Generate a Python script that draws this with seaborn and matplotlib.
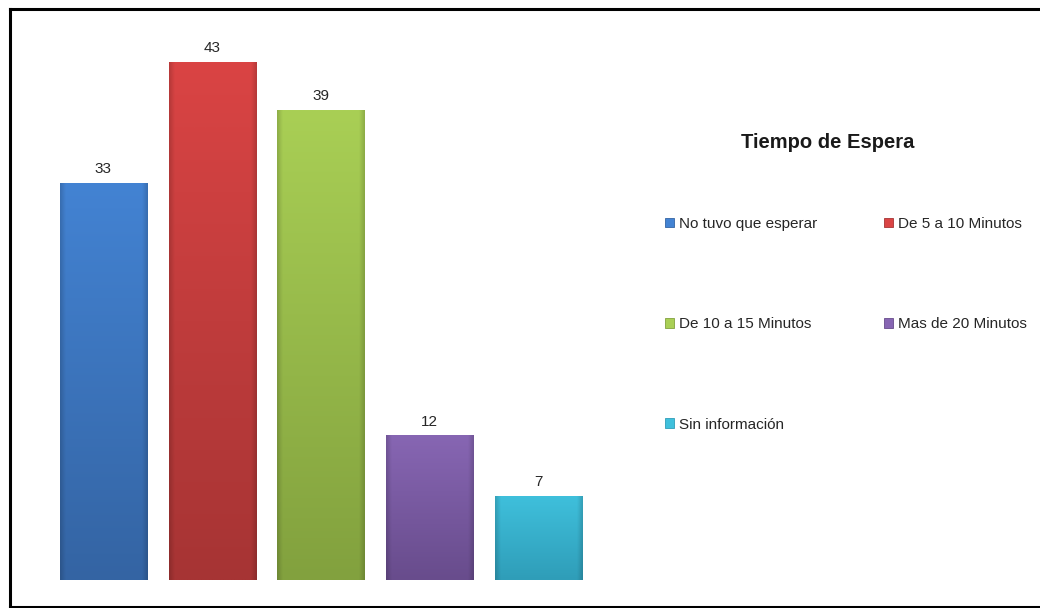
import numpy as np
import pandas as pd
import matplotlib
matplotlib.use("Agg")
import matplotlib.pyplot as plt
import seaborn as sns
from matplotlib.patches import Rectangle
from matplotlib.lines import Line2D
import matplotlib.colors as mcolors

categories = ["No tuvo que esperar", "De 5 a 10 Minutos", "De 10 a 15 Minutos",
              "Mas de 20 Minutos", "Sin información"]
values = [33, 43, 39, 12, 7]
top_colors = ["#4383D3", "#DA4444", "#A9CF55", "#8766B3", "#3FC0DC"]
bottom_colors = ["#3464A3", "#A63434", "#82A13E", "#684C8C", "#2F9DB8"]
legend_title = "Tiempo de Espera"

sns.set_theme(style="white")
plt.rcParams['font.family'] = ['Liberation Sans', 'DejaVu Sans']

fig = plt.figure(figsize=(10.4, 6.08), dpi=100)
W, H = 1040, 608
ax = fig.add_axes([49 / W, 1 - 580 / H, (593 - 49) / W, (580 - 26) / H])

df = pd.DataFrame({"cat": categories, "val": values})
sns.barplot(data=df, x="cat", y="val", hue="cat", palette=top_colors,
            width=0.8, legend=False, ax=ax, saturation=1)

for patch, ct, cb, v in zip(ax.patches, top_colors, bottom_colors, values):
    x0, y0 = patch.get_x(), patch.get_y()
    w, h = patch.get_width(), patch.get_height()
    c1 = np.array(mcolors.to_rgb(ct))
    c2 = np.array(mcolors.to_rgb(cb))
    t = np.linspace(0, 1, 256)[:, None]
    grad = (c1[None, :] * (1 - t) + c2[None, :] * t)[:, None, :]
    xs = np.linspace(0, 1, 64)
    edge = np.clip(np.minimum(xs, 1 - xs) / 0.06, 0, 1)
    shade = 0.85 + 0.15 * edge
    img = np.clip(grad * shade[None, :, None], 0, 1)
    im = ax.imshow(img, extent=[x0, x0 + w, y0, y0 + h], aspect='auto',
                   origin='upper', zorder=patch.get_zorder() + 0.1,
                   interpolation='bilinear')
    im.set_clip_path(patch)
    ax.annotate(str(v), (x0 + w / 2, y0 + h), xytext=(0, 5),
                textcoords="offset points", ha="center", va="bottom",
                fontsize=11, color="#262626")

ax.set_xlim(-0.5, 4.5)
ax.set_ylim(0, 46)
ax.axis("off")

# legend, filled row by row
order = [0, 2, 4, 1, 3]
handles = [Rectangle((0, 0), 1, 1, facecolor=c, edgecolor=cb, linewidth=0.6)
           for c, cb in zip(top_colors, bottom_colors)]
fig.legend([handles[i] for i in order], [categories[i] for i in order],
           ncol=2, loc="upper left",
           bbox_to_anchor=(665 / W, 1 - 217 / H),
           frameon=False, fontsize=11, handlelength=0.6,
           handleheight=0.6, handletextpad=0.3, labelspacing=5.65,
           columnspacing=4.4, borderpad=0, borderaxespad=0)
fig.text(828 / W, 1 - 143 / H, legend_title, ha="center", va="center",
         fontsize=14.5, fontweight="bold", color="#1a1a1a")

# figure border (left, top, bottom)
lw = 2.2
for xs_, ys_ in [([9.5 / W, 9.5 / W], [1 - 8.5 / H, 1 - 607 / H]),
                 ([9.5 / W, 1.0], [1 - 8.5 / H, 1 - 8.5 / H]),
                 ([9.5 / W, 1.0], [1 - 607 / H, 1 - 607 / H])]:
    fig.add_artist(Line2D(xs_, ys_, transform=fig.transFigure, color="black",
                          lw=lw, solid_capstyle="projecting"))

fig.savefig("out.png", dpi=100, facecolor="white")
